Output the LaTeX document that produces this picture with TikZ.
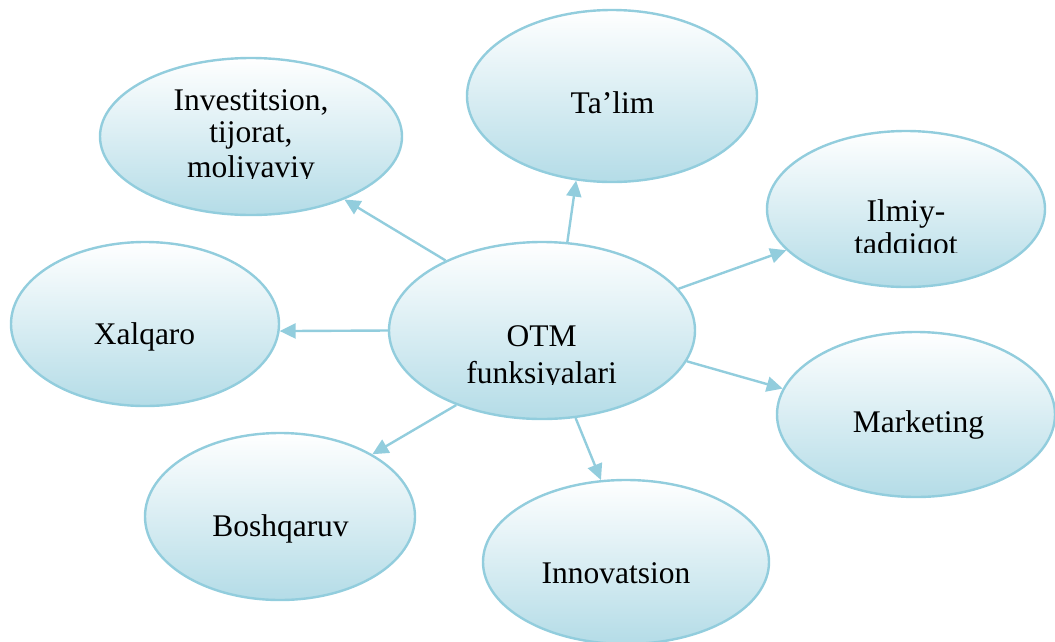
\documentclass[tikz,border=0pt]{standalone}
\usepackage{fontspec}
\setmainfont{Liberation Serif}
\usetikzlibrary{arrows.meta,shapes.geometric}
\definecolor{rimblue}{RGB}{146,205,221}
\definecolor{fillblue}{RGB}{180,220,231}
\begin{document}
\begin{tikzpicture}
[x=1pt,y=-1pt,%
  bubble/.style={shape=ellipse,draw=rimblue,line width=2.4pt,inner sep=0pt,%
    top color=white,bottom color=fillblue},%
  txt/.style={anchor=base,inner sep=0pt,font=\fontsize{31.5}{34}\selectfont},%
  link/.style={draw=rimblue,line width=2.4pt,-{Triangle[length=16pt,width=15pt]}}]
\useasboundingbox (0,0) rectangle (1055,641);
% ellipses
\node[bubble,minimum width=302pt,minimum height=157pt] (invest) at (251,136.5) {};
\node[bubble,minimum width=290pt,minimum height=172pt] (talim) at (612,96) {};
\node[bubble,minimum width=278pt,minimum height=156pt] (ilmiy) at (906,209) {};
\node[bubble,minimum width=268pt,minimum height=164pt] (xalqaro) at (145,324) {};
\node[bubble,minimum width=306pt,minimum height=177pt] (otm) at (542,330.5) {};
\node[bubble,minimum width=278pt,minimum height=165pt] (market) at (916,414.5) {};
\node[bubble,minimum width=286pt,minimum height=164pt] (innov) at (626,562) {};
\node[bubble,minimum width=270pt,minimum height=167pt] (boshq) at (280,516.5) {};
% texts
\begin{scope}
  \clip (100,60) rectangle (402,178);
  \node[txt] (invest1) at (251,110) {Investitsion,};
  \node[txt] (invest2) at (251,142) {tijorat,};
  \node[txt] (invest3) at (251,177) {moliyaviy};
\end{scope}
\node[txt] (talim1) at (612.5,113) {Ta’lim};
\begin{scope}
  \clip (767,135) rectangle (1045,252.5);
  \node[txt] (ilmiy1) at (906,221) {Ilmiy-};
  \node[txt] (ilmiy2) at (906,254.5) {tadqiqot};
\end{scope}
\node[txt] (xalqaro1) at (144.5,344) {Xalqaro};
\begin{scope}
  \clip (389,250) rectangle (695,384.5);
  \node[txt] (otm1) at (541.7,346) {OTM};
  \node[txt] (otm2) at (541.7,383) {funksiyalari};
\end{scope}
\node[txt] (market1) at (918.5,432) {Marketing};
\node[txt] (innov1) at (616,583) {Innovatsion};
\node[txt] (boshq1) at (280.5,536) {Boshqaruv};
% arrows
\draw[link] (otm.144) -- (invest.-34);
\draw[link] (otm.74) -- (talim.-113);
\draw[link] (otm.17) -- (ilmiy.199);
\draw[link] (otm.180) -- (xalqaro.-3);
\draw[link] (otm.-12) -- (market.169);
\draw[link] (otm.-69) -- (innov.107);
\draw[link] (otm.221) -- (boshq.34);
\end{tikzpicture}
\end{document}
